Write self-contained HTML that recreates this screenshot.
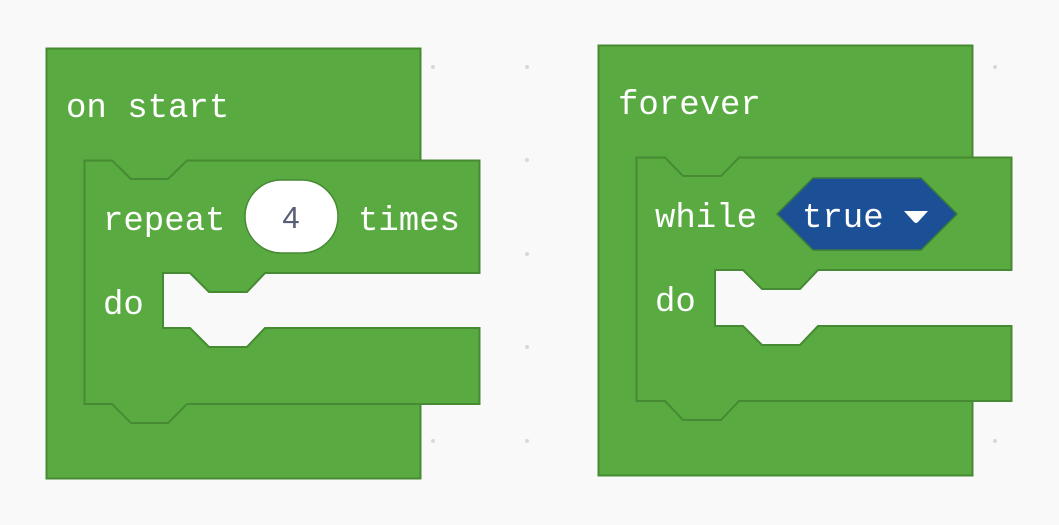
<!DOCTYPE html>
<html><head><style>
html,body{margin:0;padding:0;background:#f9f9f9;}
svg{display:block}
text{font-family:"Liberation Mono",monospace;fill:#fff;font-size:34px;}
</style></head><body>
<svg width="1059" height="525" viewBox="0 0 1059 525">
<g fill="#d8d8d8">
<circle cx="433" cy="67" r="2"/><circle cx="527" cy="67" r="2"/><circle cx="527" cy="160" r="2"/>
<circle cx="527" cy="254" r="2"/><circle cx="527" cy="347" r="2"/><circle cx="433" cy="441" r="2"/>
<circle cx="527" cy="441" r="2"/><circle cx="995" cy="67" r="2"/><circle cx="995" cy="441" r="2"/>
</g>
<rect x="46.5" y="48.5" width="374" height="430" fill="#59ab41" stroke="#478a34" stroke-width="2"/>
<path d="M163 273 H190 L209 292 H247 L265 273 H425 V328 H265 L247 347 H209 L190 328 H163 Z" fill="#f9f9f9"/>
<path d="M84.5 160.5 H112 L131 179 H168 L187 160.5 H479.5 V273 H265 L247 292 H209 L190 273 H163 V328 H190 L209 347 H247 L265 328 H479.5 V404 H187 L168 423 H131 L112 404 H84.5 Z" fill="#59ab41" stroke="#478a34" stroke-width="2"/>
<text x="66" y="117">on start</text>
<text x="103" y="230">repeat</text>
<text x="358" y="230">times</text>
<text x="103" y="314">do</text>
<rect x="245" y="180" width="93" height="73" rx="36.5" fill="#fff" stroke="#478a34" stroke-width="1.5"/>
<text x="291" y="228" text-anchor="middle" style="font-family:'Liberation Sans',sans-serif;font-size:31px;fill:#575e75">4</text>

<rect x="598.5" y="45.5" width="374" height="430" fill="#59ab41" stroke="#478a34" stroke-width="2"/>
<path d="M715 270 H743 L762 289 H800 L818 270 H977 V326 H818 L800 345 H762 L743 326 H715 Z" fill="#f9f9f9"/>
<path d="M636.5 157.5 H665 L683 176 H721 L739 157.5 H1011.5 V270 H818 L800 289 H762 L743 270 H715 V326 H743 L762 345 H800 L818 326 H1011.5 V401 H739 L721 420 H683 L665 401 H636.5 Z" fill="#59ab41" stroke="#478a34" stroke-width="2"/>
<path d="M777 214 L813 178 H921 L957 214 L921 250 H813 Z" fill="#1c5096" stroke="#3d7a3a" stroke-width="1.5"/>
<text x="618" y="114">forever</text>
<text x="655" y="227">while</text>
<text x="802" y="227">true</text>
<text x="655" y="311">do</text>
<path d="M904 211 H928 L918 222 Q916 224 914 222 Z" fill="#fff"/>
</svg>
</body></html>
